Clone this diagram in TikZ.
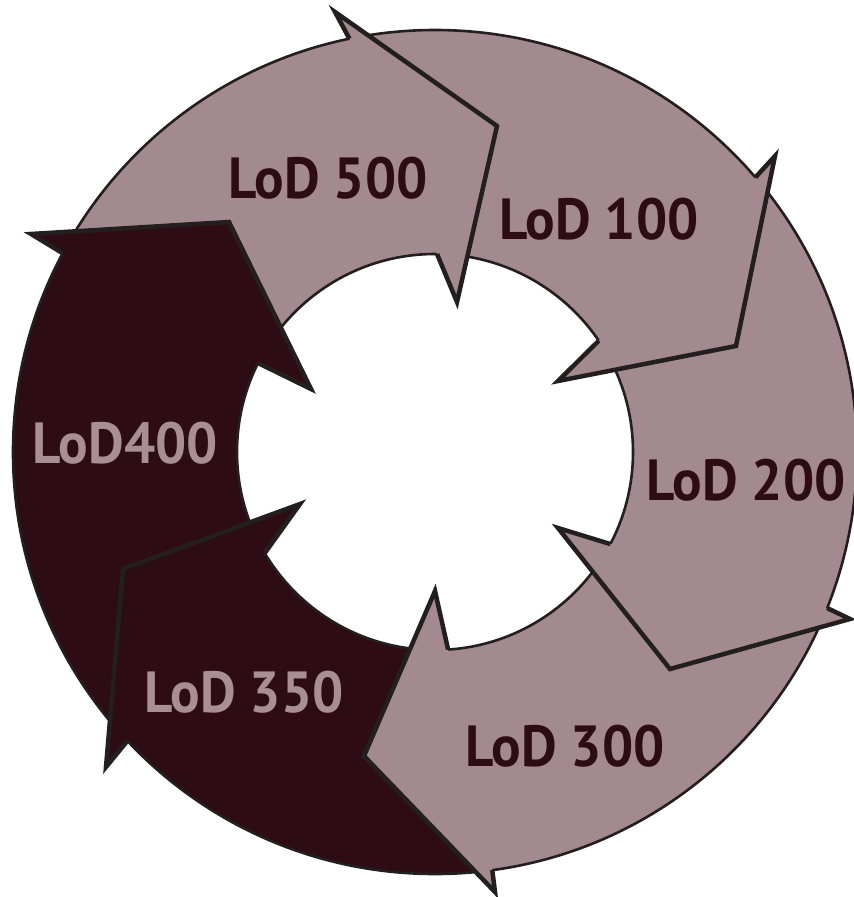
\documentclass[tikz,border=0pt]{standalone}
\usepackage{fontspec}
\setmainfont{PT Sans}[FakeStretch=0.95]
\usetikzlibrary{calc}
\definecolor{mauve}{HTML}{A38A90}
\definecolor{wine}{HTML}{2E0C15}
\definecolor{edge}{HTML}{231F20}
\definecolor{paletext}{HTML}{A88E95}
\begin{document}
\begin{tikzpicture}[x=1pt,y=-1pt,
  rim/.style={draw=edge, line width=2.6pt},
  headline/.style={draw=edge, line width=4.5pt, line join=miter, miter limit=10},
  lbl/.style={font=\fontsize{58}{60}\selectfont\bfseries, inner sep=0pt},
  darklbl/.style={lbl, text=wine},
  lightlbl/.style={lbl, text=paletext}]
\useasboundingbox (0,0) rectangle (854,897);
\coordinate (C) at (435,452);
\def\Rout{422}
\def\Rin{198}

% ring body, pale by default
\fill[mauve] (C) circle (\Rout);
% dark part of the ring (LoD 350 and LoD 400)
\begin{scope}
  \clip (C) circle (\Rout);
  \fill[wine] (362,757) -- (435,588) -- (C) -- (313,392) -- (230,221)
    -- (28,233) -- (-60,238) -- (-60,960) -- (540,939) -- cycle;
\end{scope}
% central hole
\fill[white] (C) circle (\Rin);
% ring outlines
\draw[rim] (C) circle (\Rout);
\draw[rim] (C) circle (\Rin);

% arrow heads: outer notch, outer barb, tip, inner barb, inner notch
\newcommand{\arrowhead}[6]{%
  \fill[#6] #1 -- #2 -- #3 -- #4 -- #5 -- cycle;
  \draw[headline] #1 -- #2 -- #3 -- #4 -- #5;}

\arrowhead{($(C)+(-101.7:\Rout)$)}{(335,12)}{(497,126)}{(457,302)}{($(C)+(-89.4:\Rin)$)}{mauve}
\arrowhead{($(C)+(-40.6:\Rout)$)}{(775,156)}{(736,346)}{(558,381)}{($(C)+(-34.2:\Rin)$)}{mauve}
\arrowhead{($(C)+(21.7:\Rout)$)}{(850,619)}{(670,669)}{(558,528)}{($(C)+(27.7:\Rin)$)}{mauve}
\arrowhead{($(C)+(82.2:\Rout)$)}{(495,892)}{(364,756)}{(435,591)}{($(C)+(86.2:\Rin)$)}{mauve}
\arrowhead{($(C)+(136.8:\Rout)$)}{(106,767)}{(123,569)}{(300,504)}{($(C)+(149.3:\Rin)$)}{wine}
\arrowhead{($(C)+(208.1:\Rout)$)}{(31,234)}{(229,222)}{(311,389)}{($(C)+(206.7:\Rin)$)}{wine}

% labels
\node[darklbl] (t500) at (328,178) {LoD 500};
\node[darklbl] (t100) at (599,219) {LoD 100};
\node[darklbl] (t200) at (746,480) {LoD 200};
\node[darklbl] (t300) at (565,746) {LoD 300};
\node[lightlbl] (t350) at (244,692) {LoD 350};
\node[lightlbl] (t400) at (125,443) {LoD400};
\end{tikzpicture}
\end{document}
